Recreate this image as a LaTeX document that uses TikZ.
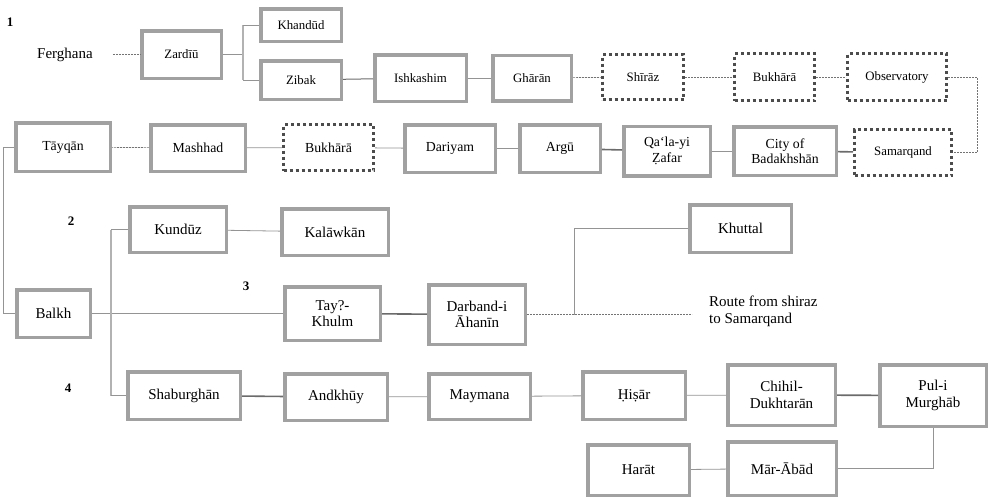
\documentclass[tikz,border=0pt]{standalone}
\usepackage{fontspec}
\setmainfont{Liberation Serif}

\tikzset{
    place/.style={draw=black!37, line width=3.5pt, fill=white, align=center, inner sep=1pt},
    dotplace/.style={draw=black!70, line width=3pt, dash pattern=on 3pt off 3pt, fill=white, align=center, inner sep=1pt},
    boxsize/.style 2 args={minimum width=#1pt, minimum height=#2pt},
    road/.style={draw=black!42, line width=0.8pt},
    mainroad/.style={draw=black!58, line width=1.6pt},
    shirazroute/.style={draw=black!55, line width=0.7pt, dash pattern=on 2pt off 1pt},
    fork/.style={draw=black!30, line width=2.2pt},
    toprow/.style={font=\fontsize{12.8}{14}\selectfont},
    midrow/.style={font=\fontsize{13.8}{15.5}\selectfont},
    lowrow/.style={font=\fontsize{15}{16.5}\selectfont},
    num/.style={font=\fontsize{13}{14}\selectfont\bfseries},
}

\begin{document}
\begin{tikzpicture}[x=1pt, y=-1pt]
    \useasboundingbox (0,0) rectangle (989,498);

    % route 1: Ferghana to Samarqand and back to Tayqan
    \node[num] (n1) at (10,22) {1};
    \node[lowrow, inner sep=0pt] (ferghana) at (65,54.5) {Ferghana};
    \node[place, toprow, boxsize={79.5}{47.5}] (zardiu) at (181.5,54.5) {Zardīū};
    \node[place, toprow, boxsize={80.5}{32.5}] (khandud) at (301,25) {Khandūd};
    \node[place, toprow, boxsize={80.5}{38.5}] (zibak) at (301,80) {Zibak};
    \node[place, toprow, boxsize={91.5}{46.5}] (ishkashim) at (420.5,78) {Ishkashim};
    \node[place, toprow, boxsize={78.5}{45.5}] (gharan) at (532,78) {Ghārān};
    \node[dotplace, toprow, boxsize={81}{45}] (shiraz) at (643,77) {Shīrāz};
    \node[dotplace, toprow, boxsize={80}{47}] (bukhara) at (774.5,77) {Bukhārā};
    \node[dotplace, toprow, boxsize={99}{47}] (observatory) at (897,77) {Observatory};
    \node[dotplace, toprow, boxsize={97}{46}] (samarqand) at (903,152.5) {Samarqand};
    \node[place, midrow, boxsize={102.5}{48.5}] (city) at (785,151) {City of\\Badakhshān};
    \node[place, midrow, boxsize={86.5}{49.5}] (qala) at (667,151) {Qaʻla-yi\\Ẓafar};
    \node[place, midrow, boxsize={80.5}{47.5}] (argu) at (560,148.5) {Argū};
    \node[place, midrow, boxsize={90.5}{47.5}] (dariyam) at (450,148.5) {Dariyam};
    \node[dotplace, midrow, boxsize={90}{46}] (bukharatwo) at (328.5,147.5) {Bukhārā};
    \node[place, midrow, boxsize={94.5}{46.5}] (mashhad) at (198,148) {Mashhad};
    \node[place, midrow, boxsize={94.5}{48.5}] (tayqan) at (63,147) {Tāyqān};

    \coordinate (zfork) at (243,54.5);
    \draw[shirazroute, shorten <=20pt] (ferghana) -- (zardiu);
    \draw[road] (zardiu) -- (zfork);
    \draw[fork] (zfork |- khandud) -- (zfork |- zibak);
    \draw[road] (zfork |- khandud) -- (khandud);
    \draw[road] (zfork |- zibak) -- (zibak);
    \draw[mainroad, line width=1pt] (zibak) -- (ishkashim);
    \draw[road] (ishkashim) -- (gharan);
    \draw[shirazroute] (gharan) -- (shiraz);
    \draw[shirazroute] (shiraz) -- (bukhara);
    \draw[shirazroute] (bukhara) -- (observatory);
    \draw[shirazroute] (observatory.east) -- ++(29,0) |- (samarqand.east);
    \draw[mainroad] (samarqand) -- (city);
    \draw[road] (city) -- (qala);
    \draw[mainroad] (qala) -- (argu);
    \draw[road] (argu) -- (dariyam);
    \draw[road] (dariyam) -- (bukharatwo);
    \draw[road] (bukharatwo) -- (mashhad);
    \draw[shirazroute] (mashhad) -- (tayqan);

    % routes 2, 3 and 4 out of Balkh
    \node[num] (n2) at (71,221) {2};
    \node[num] (n3) at (246,286) {3};
    \node[num] (n4) at (68,388) {4};
    \node[place, lowrow, boxsize={73.5}{47.5}] (balkh) at (53.5,313.5) {Balkh};
    \node[place, lowrow, boxsize={96.5}{45.5}] (kunduz) at (178,229.5) {Kundūz};
    \node[place, lowrow, boxsize={106.5}{46.5}] (kalawkan) at (335,232) {Kalāwkān};
    \node[place, lowrow, boxsize={95.5}{53.5}] (taykhulm) at (332.5,313.5) {Tay?-\\Khulm};
    \node[place, lowrow, boxsize={96.5}{59.5}] (darband) at (477,314.5) {Darband-i\\Āhanīn};
    \node[place, lowrow, boxsize={101.5}{47.5}] (khuttal) at (740.5,228.5) {Khuttal};
    \node[lowrow, anchor=west, align=left, inner sep=0pt] (route) at (709,311.5) {Route from shiraz\\to Samarqand};
    \node[place, lowrow, boxsize={112.5}{47.5}] (shaburghan) at (184,395.5) {Shaburghān};
    \node[place, lowrow, boxsize={102.5}{46.5}] (andkhuy) at (336,397) {Andkhūy};
    \node[place, lowrow, boxsize={101.5}{45.5}] (maymana) at (479.5,396.5) {Maymana};
    \node[place, lowrow, boxsize={102.5}{47.5}] (hisar) at (634,395.5) {Ḥiṣār};
    \node[place, lowrow, boxsize={107.5}{60.5}] (chihil) at (781.5,395) {Chihil-\\Dukhtarān};
    \node[place, lowrow, boxsize={106.5}{61.5}] (pul) at (933,395.5) {Pul-i\\Murghāb};
    \node[place, lowrow, boxsize={108.5}{53.5}] (marabad) at (782,468.5) {Mār-Ābād};
    \node[place, lowrow, boxsize={101.5}{50.5}] (harat) at (638.5,470) {Harāt};

    \coordinate (bfork) at (111,313.5);
    \coordinate (kfork) at (574,314.5);
    \draw[road] (tayqan.west) -- ++(-11,0) |- (balkh.west);
    \draw[road] (balkh) -- (taykhulm);
    \draw[fork] (bfork |- kunduz) -- (bfork |- shaburghan);
    \draw[road] (bfork |- kunduz) -- (kunduz);
    \draw[road] (bfork |- shaburghan) -- (shaburghan);
    \draw[road] (kunduz) -- (kalawkan);
    \draw[mainroad] (taykhulm) -- (darband);
    \draw[shirazroute, shorten >=17pt] (darband.east) -- (darband.east -| route.west);
    \draw[road] (kfork) |- (khuttal.west);
    \draw[mainroad] (shaburghan) -- (andkhuy);
    \draw[road] (andkhuy) -- (maymana);
    \draw[road] (maymana) -- (hisar);
    \draw[road] (hisar) -- (chihil);
    \draw[mainroad] (chihil) -- (pul);
    \draw[road] (pul.south) |- (marabad.east);
    \draw[road] (marabad) -- (harat);

\end{tikzpicture}
\end{document}
